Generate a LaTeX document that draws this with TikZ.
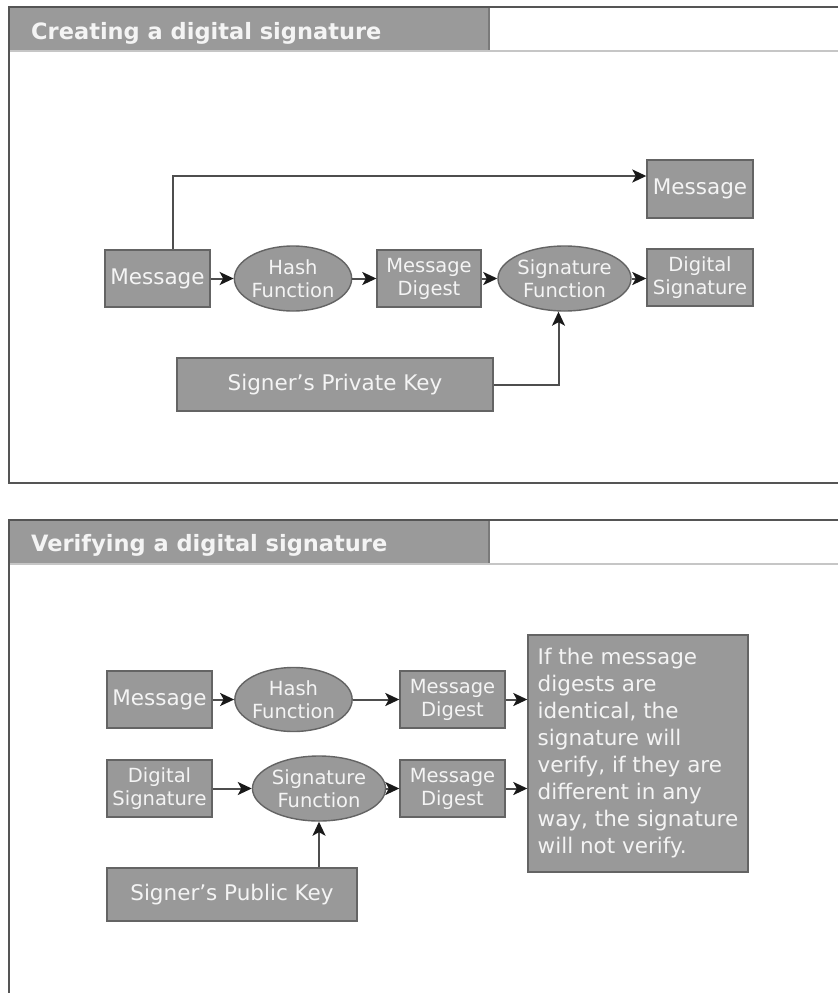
\documentclass[tikz,border=0pt]{standalone}
\usepackage{fontspec}
\setmainfont{DejaVu Sans}
\usetikzlibrary{arrows.meta,shapes.geometric}
\definecolor{boxfill}{HTML}{999999}
\definecolor{boxline}{HTML}{646464}
\definecolor{wire}{HTML}{4E4E4E}
\definecolor{labeltext}{HTML}{F4F4F4}
\definecolor{framecol}{HTML}{555555}
\definecolor{headfill}{HTML}{9A9A9A}
\definecolor{headrule}{HTML}{C6C6C6}
\definecolor{headsep}{HTML}{7A7A7A}

\begin{document}
\begin{tikzpicture}[x=1pt,y=-1pt,
  card/.style={draw=boxline, line width=1.4pt, fill=boxfill, text=labeltext,
    inner sep=0pt, align=center, font=\fontsize{21.5}{27}\selectfont},
  smallcard/.style={card, font=\fontsize{19.5}{23}\selectfont},
  oval/.style={smallcard, ellipse},
  arr/.style={draw=wire, line width=2pt,
    -{Stealth[length=14pt,width=13pt,inset=3.5pt,color=black!90]}},
  headtext/.style={text=labeltext, inner sep=0pt,
    font=\fontsize{22.5}{26}\selectfont\bfseries}
]
\useasboundingbox (0,0) rectangle (838,993);
\fill[white] (0,0) rectangle (838,993);

% ---------- panel frames ----------
% upper panel
\fill[headfill] (9,7) rectangle (489,50);
\draw[headrule, line width=2pt] (9,51) -- (838,51);
\draw[headsep, line width=2pt] (489,7) -- (489,50);
\draw[framecol, line width=1.8pt] (838,7) -- (9,7) -- (9,483) -- (838,483);
\node[headtext, anchor=base west] (title1) at (31,39) {Creating a digital signature};
% lower panel
\fill[headfill] (9,520) rectangle (489,563);
\draw[headrule, line width=2pt] (9,564) -- (838,564);
\draw[headsep, line width=2pt] (489,520) -- (489,563);
\draw[framecol, line width=1.8pt] (838,520) -- (9,520) -- (9,993);
\node[headtext, anchor=base west] (title2) at (31,551) {Verifying a digital signature};

% ---------- creating a signature ----------
\node[card, minimum width=105pt, minimum height=57pt] (msgA) at (157.5,278.5) {Message};
\node[oval, minimum width=114pt, minimum height=65pt] (hashA) at (293,278.5) {Hash\\Function};
\node[smallcard, minimum width=104pt, minimum height=57pt] (digA) at (429,278.5) {Message\\Digest};
\node[oval, minimum width=115pt, minimum height=65pt] (sigfA) at (564.5,278.5) {Signature\\Function};
\node[smallcard, minimum width=106pt, minimum height=57pt] (dsA) at (700,277.5) {Digital\\Signature};
\node[card, minimum width=106pt, minimum height=58pt] (msgOut) at (700,189) {Message};
\node[card, minimum width=316pt, minimum height=53pt] (privkey) at (335,384.5) {Signer’s Private Key};

\draw[arr] (msgA) -- (hashA);
\draw[arr] (hashA) -- (digA);
\draw[arr] (digA) -- (sigfA);
\draw[arr] (sigfA.east) -- (sigfA.east -| dsA.west);
\draw[arr] ([xshift=15pt]msgA.north) |- ([yshift=13pt]msgOut.west);
\draw[arr] (privkey.east) -| ([xshift=-6pt]sigfA.south);

% ---------- verifying a signature ----------
\node[card, minimum width=105pt, minimum height=57pt] (msgB) at (159.5,699.5) {Message};
\node[oval, minimum width=113pt, minimum height=64pt] (hashB) at (293.5,699.5) {Hash\\Function};
\node[smallcard, minimum width=105pt, minimum height=57pt] (digB) at (452.5,699.5) {Message\\Digest};
\node[smallcard, minimum width=105pt, minimum height=57pt] (dsB) at (159.5,788.5) {Digital\\Signature};
\node[oval, minimum width=114pt, minimum height=65pt] (sigfB) at (319,788.5) {Signature\\Function};
\node[smallcard, minimum width=105pt, minimum height=57pt] (digC) at (452.5,788.5) {Message\\Digest};
\node[card, align=left, minimum width=220pt, minimum height=237pt] (verdict) at (638,753.5)
  {If the message\\digests are\\identical, the\\signature will\\verify, if they are\\different in any\\way, the signature\\will not verify.};
\node[card, minimum width=250pt, minimum height=53pt] (pubkey) at (232,894.5) {Signer’s Public Key};

\draw[arr] (msgB) -- (hashB);
\draw[arr] (hashB) -- (digB);
\draw[arr] (dsB) -- (sigfB);
\draw[arr] (sigfB) -- (digC);
\draw[arr] (digB.east) -- (digB.east -| verdict.west);
\draw[arr] (digC.east) -- (digC.east -| verdict.west);
\draw[arr] (pubkey.north -| sigfB.south) -- (sigfB.south);
\end{tikzpicture}
\end{document}
